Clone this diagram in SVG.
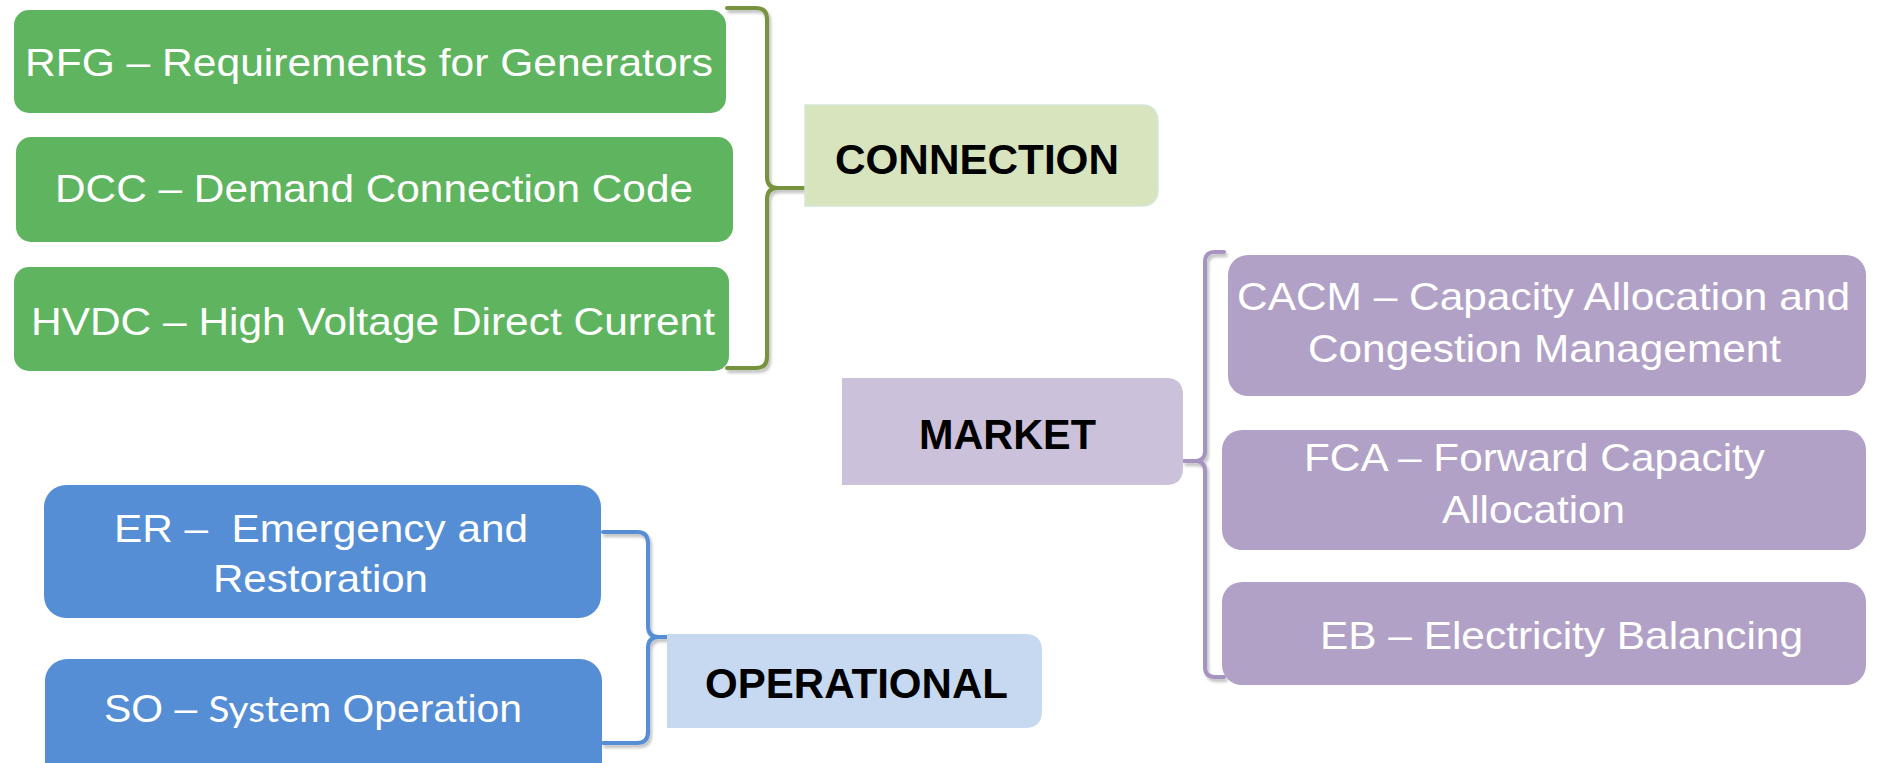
<svg xmlns="http://www.w3.org/2000/svg" width="1878" height="763" viewBox="0 0 1878 763">
<defs>
<style>
.t{font-family:"Liberation Sans",Arial,sans-serif;font-size:39px;fill:#ffffff}
.b{font-family:"Liberation Sans",Arial,sans-serif;font-size:42px;font-weight:bold;fill:#000000}
.g{fill:#5fb55f}
.p{fill:#b2a1c7}
.u{fill:#558ed5}
.br{fill:none;stroke-width:4;stroke-linejoin:round;stroke-linecap:round;filter:url(#sh)}
</style>
<filter id="sh" x="-20%" y="-5%" width="140%" height="110%">
<feDropShadow dx="2" dy="3" stdDeviation="1.5" flood-color="#000" flood-opacity="0.25"/>
</filter>
</defs>
<rect width="1878" height="763" fill="#ffffff"/>
<g id="connectors">
<path class="br" stroke="#77933c" d="M727,8 L756,8 Q767,8 767,19 L767,177 Q767,188 778,188 L806,188 M778,188 Q767,188 767,199 L767,357 Q767,368 756,368 L727,368"/>
<path class="br" stroke="#a693c0" d="M1224,252 L1215,252 Q1205,252 1205,262 L1205,451 Q1205,461 1195,461 L1184,461 M1195,461 Q1205,461 1205,471 L1205,667 Q1205,677 1215,677 L1224,677"/>
<path class="br" stroke="#558ed5" d="M603,532 L637,532 Q648,532 648,543 L648,626 Q648,637 659,637 L669,637 M659,637 Q648,637 648,648 L648,732 Q648,743 637,743 L603,743"/>
</g>
<g id="rfg"><rect class="g" x="14" y="10" width="712" height="103" rx="15"/><text class="t" x="25" y="76" textLength="688" lengthAdjust="spacingAndGlyphs">RFG – Requirements for Generators</text></g>
<g id="dcc"><rect class="g" x="16" y="137" width="717" height="105" rx="15"/><text class="t" x="55" y="202" textLength="638" lengthAdjust="spacingAndGlyphs">DCC – Demand Connection Code</text></g>
<g id="hvdc"><rect class="g" x="14" y="267" width="715" height="104" rx="15"/><text class="t" x="31" y="335" textLength="684" lengthAdjust="spacingAndGlyphs">HVDC – High Voltage Direct Current</text></g>
<g id="connection"><path fill="#d7e4bd" stroke="#d3e6d6" stroke-width="1.5" d="M805,105 L1141,105 Q1158,105 1158,122 L1158,189 Q1158,206 1141,206 L805,206 Z"/><text class="b" x="835" y="174" textLength="284" lengthAdjust="spacingAndGlyphs">CONNECTION</text></g>
<g id="market"><path fill="#ccc1da" d="M842,378 L1166,378 Q1183,378 1183,395 L1183,468 Q1183,485 1166,485 L842,485 Z"/><text class="b" x="919" y="449" textLength="177" lengthAdjust="spacingAndGlyphs">MARKET</text></g>
<g id="cacm"><rect class="p" x="1228" y="255" width="638" height="141" rx="20"/><text class="t" x="1237" y="310" textLength="613" lengthAdjust="spacingAndGlyphs">CACM – Capacity Allocation and</text><text class="t" x="1308" y="362" textLength="473" lengthAdjust="spacingAndGlyphs">Congestion Management</text></g>
<g id="fca"><rect class="p" x="1222" y="430" width="644" height="120" rx="20"/><text class="t" x="1304" y="471" textLength="461" lengthAdjust="spacingAndGlyphs">FCA – Forward Capacity</text><text class="t" x="1442" y="523" textLength="183" lengthAdjust="spacingAndGlyphs">Allocation</text></g>
<g id="eb"><rect class="p" x="1222" y="582" width="644" height="103" rx="20"/><text class="t" x="1320" y="649" textLength="483" lengthAdjust="spacingAndGlyphs">EB – Electricity Balancing</text></g>
<g id="er"><rect class="u" x="44" y="485" width="557" height="133" rx="22"/><text class="t" x="114" y="542" textLength="414" lengthAdjust="spacingAndGlyphs" xml:space="preserve">ER –  Emergency and</text><text class="t" x="213" y="592" textLength="215" lengthAdjust="spacingAndGlyphs">Restoration</text></g>
<g id="so"><rect class="u" x="45" y="659" width="557" height="130" rx="22"/><text class="t" x="104" y="722" textLength="418" lengthAdjust="spacingAndGlyphs">SO – <tspan font-family="Lato,'Open Sans',sans-serif" font-size="37">System</tspan> Operation</text></g>
<g id="operational"><path fill="#c6d9f1" d="M667,634 L1025,634 Q1042,634 1042,651 L1042,711 Q1042,728 1025,728 L667,728 Z"/><text class="b" x="705" y="698" textLength="303" lengthAdjust="spacingAndGlyphs">OPERATIONAL</text></g>
</svg>
